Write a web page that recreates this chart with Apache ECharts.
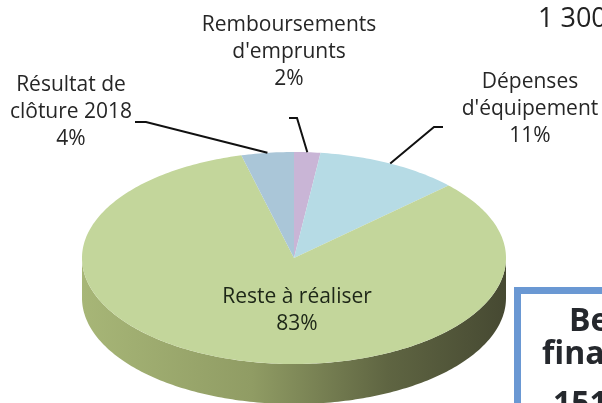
<!DOCTYPE html>
<html>
<head>
<meta charset="utf-8">
<script src="https://cdn.jsdelivr.net/npm/echarts@6/dist/echarts.min.js"></script>
<style>
  html, body { margin: 0; padding: 0; background: #fff; }
  #chart { width: 602px; height: 403px; }
</style>
</head>
<body>
<div id="chart"></div>
<script>
(function () {
  // données du camembert (sens horaire depuis midi)
  var categories = ["Remboursements\nd'emprunts", "Dépenses\nd'équipement", "Reste à réaliser", "Résultat de\nclôture 2018"];
  var values = [2, 11, 83, 4];
  var colors = ['#c9b5d6', '#b6dbe5', '#c3d69b', '#aac6d8'];

  // mise en page des étiquettes (centre du bloc de texte + coude du trait)
  var labelPos = [[289, 52], [530, 109], [297, 311], [71, 112]];
  var leaderPts = [[[297, 118], [289, 118]], [[434, 127], [443, 127]], null, [[146, 122], [135, 122]]];

  var cx = 294, cy = 258, rx = 212, ry = 106, depth = 40;
  var total = values.reduce(function (s, v) { return s + v; }, 0);

  function pt(deg, dy) {
    var r = deg * Math.PI / 180;
    return [cx + rx * Math.sin(r), cy - ry * Math.cos(r) + (dy || 0)];
  }
  function arc(a0, a1, dy) {
    var out = [];
    var n = Math.max(2, Math.ceil(Math.abs(a1 - a0)));
    for (var k = 0; k <= n; k++) out.push(pt(a0 + (a1 - a0) * k / n, dy));
    return out;
  }

  var myChart = echarts.init(document.getElementById('chart'));

  var option = {
    animation: false,
    series: [{
      type: 'custom',
      coordinateSystem: 'none',
      silent: true,
      data: values.map(function (v, i) { return { name: categories[i], value: v }; }),
      renderItem: function (params, api) {
        var i = params.dataIndex;
        var before = 0;
        for (var j = 0; j < i; j++) before += values[j];
        var a0 = before / total * 360;
        var a1 = (before + api.value(0)) / total * 360;
        var children = [];

        // flanc visible (partie avant)
        var s0 = Math.max(a0, 90), s1 = Math.min(a1, 270);
        if (s1 > s0) {
          var side = arc(s0, s1, 0).concat(arc(s1, s0, depth));
          children.push({
            type: 'polygon', z2: 0,
            shape: { points: side },
            style: {
              fill: new echarts.graphic.LinearGradient(0, 0, 1, 0, [
                { offset: 0, color: '#a7b677' },
                { offset: 0.4, color: '#909c64' },
                { offset: 0.72, color: '#5f6542' },
                { offset: 1, color: '#464932' }
              ])
            }
          });
        }

        // dessus de la part
        children.push({
          type: 'polygon', z2: 1,
          shape: { points: [[cx, cy]].concat(arc(a0, a1, 0)) },
          style: { fill: colors[i] }
        });

        // trait de rappel
        var mid = (a0 + a1) / 2;
        if (leaderPts[i]) {
          children.push({
            type: 'polyline', z2: 2,
            shape: { points: [pt(mid, 0)].concat(leaderPts[i]) },
            style: { stroke: '#111', lineWidth: 2, fill: null }
          });
        }

        // étiquette
        children.push({
          type: 'text', z2: 3,
          style: {
            text: categories[i] + '\n' + Math.round(api.value(0) / total * 100) + '%',
            x: labelPos[i][0], y: labelPos[i][1],
            align: 'center', verticalAlign: 'middle',
            fontFamily: '"Open Sans"', fontSize: 21, lineHeight: 27,
            fill: i === 2 ? '#1d2617' : '#262626'
          }
        });

        return { type: 'group', children: children };
      }
    }],
    graphic: [
      {
        type: 'text', left: 538, top: 6,
        style: { text: '1 300', fontFamily: '"Open Sans"', fontSize: 27, fill: '#222' }
      },
      {
        type: 'rect',
        shape: { x: 517.5, y: 290.5, width: 140, height: 150 },
        style: { fill: '#fff', stroke: '#6a98d3', lineWidth: 7 }
      },
      {
        type: 'group',
        children: [
          { type: 'text', x: 569, y: 322, style: { text: 'Besoin de', fontFamily: '"Open Sans"', fontWeight: 'bold', fontSize: 32, fill: '#25282d', verticalAlign: 'middle' } },
          { type: 'text', x: 542, y: 355, style: { text: 'financement', fontFamily: '"Open Sans"', fontWeight: 'bold', fontSize: 32, fill: '#25282d', verticalAlign: 'middle' } },
          { type: 'text', x: 553, y: 405, style: { text: '151', fontFamily: '"Open Sans"', fontWeight: 'bold', fontSize: 32, fill: '#25282d', verticalAlign: 'middle' } }
        ]
      }
    ]
  };

  myChart.setOption(option);
  window.addEventListener('resize', function () {
    myChart.resize();
  });
})();
</script>
</body>
</html>
